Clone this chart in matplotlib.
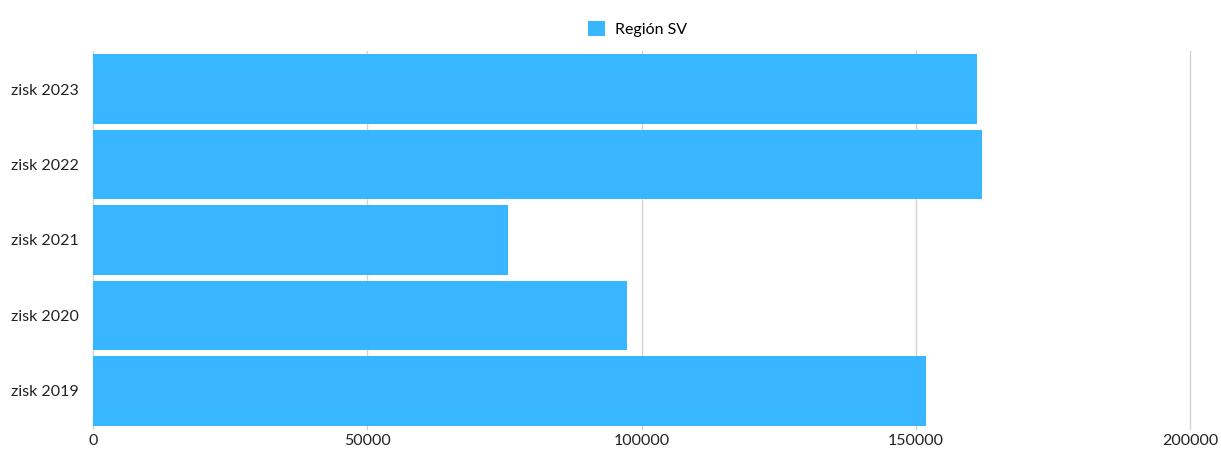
import matplotlib.pyplot as plt

categories = ["zisk 2019", "zisk 2020", "zisk 2021", "zisk 2022", "zisk 2023"]
values = [151900, 97400, 75700, 162000, 161100]
series_name = "Región SV"
x_ticks = [0, 50000, 100000, 150000, 200000]

plt.rcParams['font.family'] = ['Lato', 'DejaVu Sans']

fig = plt.figure(figsize=(12.21, 4.49), dpi=100)
ax = fig.add_axes([0.0762, 0.0455, 0.8984, 0.840])

ax.barh(categories, values, height=0.92, color='#38B6FF', label=series_name, zorder=3)

ax.set_xlim(0, 200000)
ax.set_ylim(-0.5, len(categories) - 0.5)
ax.set_xticks(x_ticks)
ax.set_xticklabels([str(t) for t in x_ticks], fontsize=11.5, color='#222222')
ax.tick_params(axis='y', labelsize=11.5, colors='#222222', length=0, pad=10)
ax.tick_params(axis='x', length=0, pad=4)
ax.grid(axis='x', color='#d3d3d3', linewidth=1, zorder=0)
for gl in ax.get_xgridlines():
    gl.set_clip_on(False)

for s in ax.spines.values():
    s.set_visible(False)

fig.legend(loc='upper center', bbox_to_anchor=(0.522, 0.985), frameon=False,
           fontsize=11.5, handlelength=1.1, handleheight=1.1, handletextpad=0.6)

fig.savefig('out.png', dpi=100)
